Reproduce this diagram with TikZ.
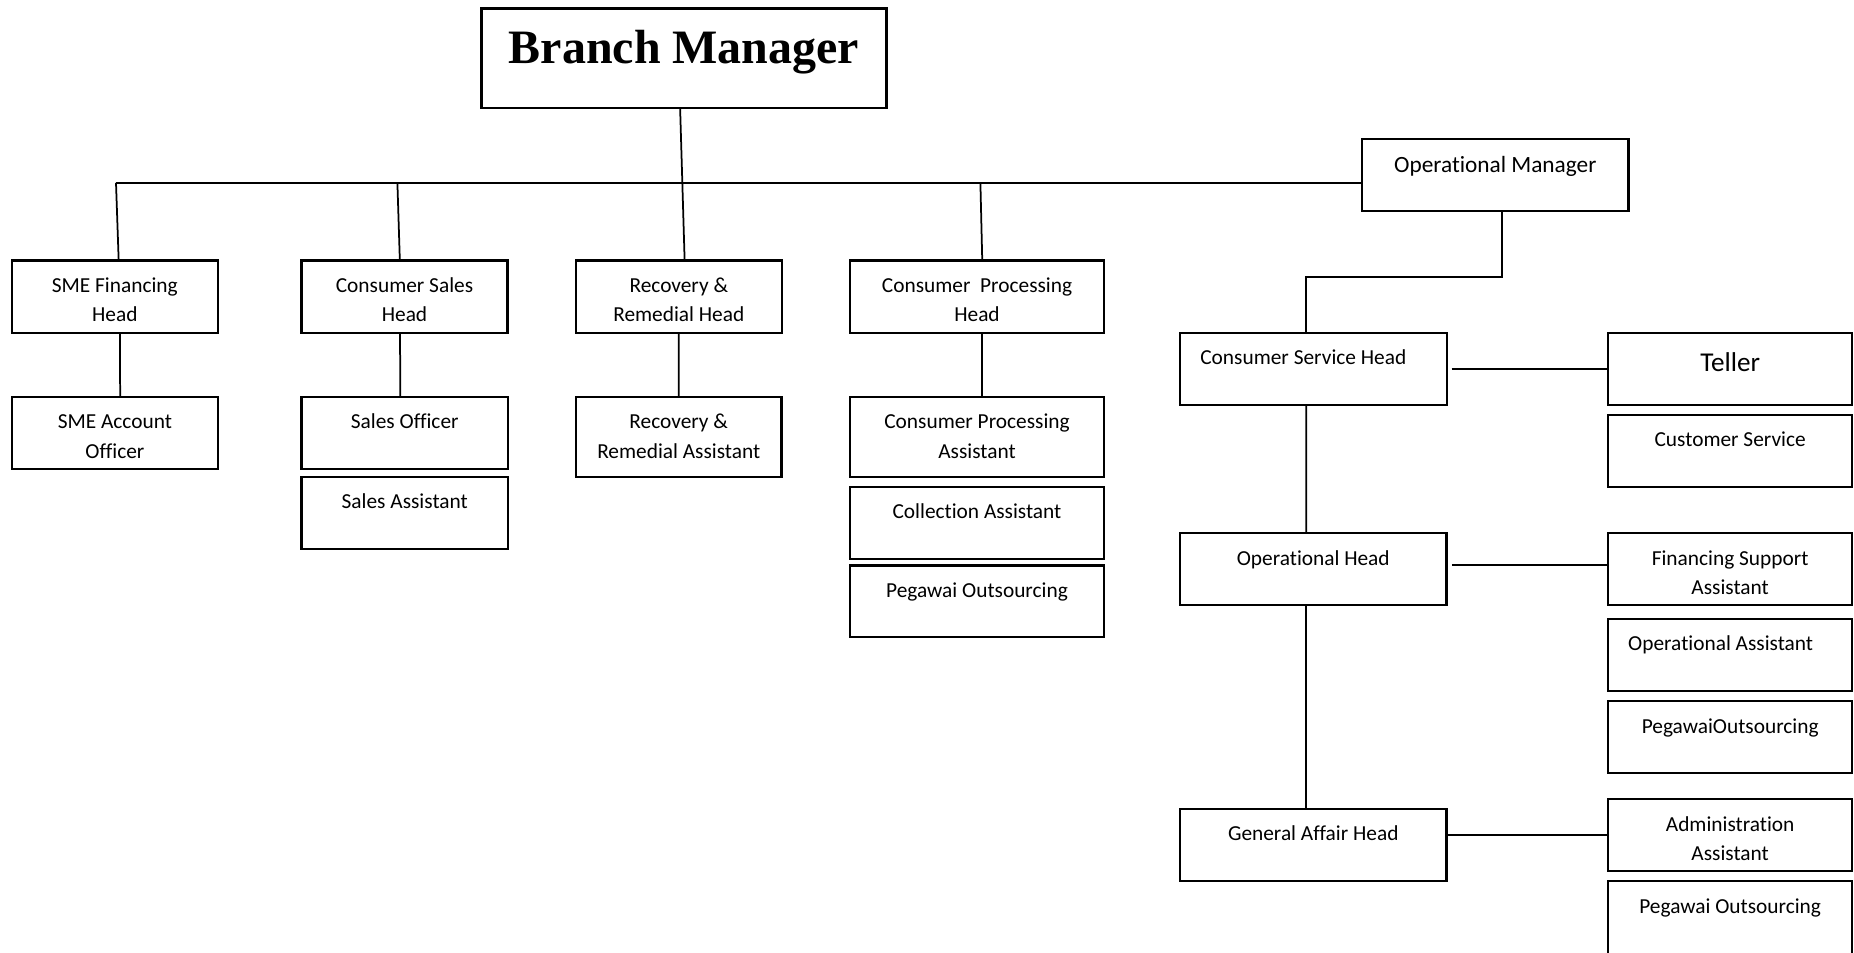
\documentclass[tikz,border=0pt]{standalone}
\usepackage{fontspec}
\setmainfont{Carlito}[Ligatures=CommonOff]
\newfontfamily\tnrfont{Liberation Serif}
\tikzset{
  boxst/.style={draw, line width=1.1pt, rectangle, inner sep=0pt, outer sep=0pt},
  topbox/.style={line width=1.5pt},
  lbl/.style={inner sep=0pt, outer sep=0pt, anchor=north, align=center, font=\fontsize{11}{15.2}\selectfont},
  conn/.style={line width=0.9pt},
}
\newcommand\orgbox[6][]{%
  \node[boxst, #1, minimum width={(#5-#3)*0.515pt}, minimum height={(#6-#4)*0.515pt}] (#2) at ({(#3+#5)/2},{(#4+#6)/2}) {};}
\newcommand\orgtxt[3][0pt]{%
  \node[lbl] (#2t) at ([xshift=#1,yshift=-5.8pt]#2.north) {\strut #3};}
\begin{document}
\begin{tikzpicture}[x=0.515pt,y=-0.515pt]
\useasboundingbox (0,0) rectangle (1854,952);
\fill[white] (0,0) rectangle (1854,952);
\clip (0,0) rectangle (1854,952);
% boxes
\orgbox[topbox]{bm}{481.5}{8.3}{886.5}{108}
\orgbox{om}{1362}{139}{1628.5}{211}
\orgbox{sme}{12}{260.5}{217.6}{333}
\orgbox{csales}{301.5}{260.5}{507.5}{333}
\orgbox{rrh}{576}{260.5}{781.6}{333}
\orgbox{cph}{850}{260.5}{1104}{333}
\orgbox{sao}{12}{397}{217.8}{469.4}
\orgbox{so}{301.5}{397}{508}{469.4}
\orgbox{sa}{301.5}{476.6}{508}{549}
\orgbox{rra}{576}{397}{781.5}{477}
\orgbox{cpa}{850}{397}{1104}{477}
\orgbox{ca}{850}{486.8}{1104}{559}
\orgbox{poa}{850}{565.5}{1104}{637}
\orgbox{csvh}{1180}{332.7}{1446.6}{405.3}
\orgbox{teller}{1608.3}{332.7}{1852}{405.3}
\orgbox{cs}{1608.3}{414.7}{1852}{487.3}
\orgbox{oh}{1180}{533.3}{1446.5}{605.3}
\orgbox{fsa}{1608.3}{533.3}{1852}{605.3}
\orgbox{oa}{1608.3}{619}{1852}{691.3}
\orgbox{pob}{1608.3}{701.3}{1852}{773.3}
\orgbox{gah}{1180}{809}{1446.5}{881}
\orgbox{aa}{1608.3}{799.3}{1852}{871.3}
\orgbox{poc}{1608.3}{881.3}{1852}{1000}
% texts
\node[inner sep=0pt, anchor=base, font=\tnrfont\bfseries\fontsize{24.7}{28}\selectfont] (bmt) at ([yshift=-28.3pt]bm.north) {Branch Manager};
\node[inner sep=0pt, anchor=base, font=\fontsize{12}{14.6}\selectfont] (omt) at ([yshift=-17.3pt]om.north) {Operational Manager};
\node[inner sep=0pt, anchor=base, font=\fontsize{14}{17}\selectfont] (tellert) at ([yshift=-20.2pt]teller.north) {Teller};
\orgtxt{sme}{SME Financing\\Head}
\orgtxt{csales}{Consumer Sales\\Head}
\orgtxt{rrh}{Recovery \&\\Remedial Head}
\orgtxt{cph}{Consumer\ \ Processing\\Head}
\orgtxt{sao}{SME Account\\Officer}
\orgtxt{so}{Sales Officer}
\orgtxt{sa}{Sales Assistant}
\orgtxt{rra}{Recovery \&\\Remedial Assistant}
\orgtxt{cpa}{Consumer Processing\\Assistant}
\orgtxt{ca}{Collection Assistant}
\orgtxt{poa}{Pegawai Outsourcing}
\orgtxt[-5.15pt]{csvh}{Consumer Service Head}
\orgtxt{cs}{Customer Service}
\orgtxt{oh}{Operational Head}
\orgtxt{fsa}{Financing Support\\Assistant}
\orgtxt[-4.9pt]{oa}{Operational Assistant}
\orgtxt{pob}{PegawaiOutsourcing}
\orgtxt{gah}{General Affair Head}
\orgtxt{aa}{Administration\\Assistant}
\orgtxt{poc}{Pegawai Outsourcing}
% connectors
\coordinate (busL) at (116,182.8);
\coordinate (b2) at (397.4,182.8);
\coordinate (b3) at (980.4,182.8);
\coordinate (elb) at (1400,276.7);
\draw[conn] (busL) -- (om.west |- busL);
\draw[conn] ([xshift=-2pt]bm.south) -- ([xshift=3pt]rrh.north);
\draw[conn] (busL) -- ([xshift=2pt]sme.north);
\draw[conn] (b2) -- ([xshift=-2.4pt]csales.north);
\draw[conn] (b3) -- ([xshift=2.7pt]cph.north);
\draw[conn] ([xshift=2.7pt]sme.south) -- ([xshift=2.7pt]sao.north);
\draw[conn] ([xshift=-2.3pt]csales.south) -- ([xshift=-2.3pt]so.north);
\draw[conn] (rrh.south) -- (rra.north);
\draw[conn] ([xshift=2.5pt]cph.south) -- ([xshift=2.5pt]cpa.north);
\draw[conn] ([xshift=3.6pt]om.south) |- (elb) -| ([xshift=-3.6pt]csvh.north);
\draw[conn] ([xshift=-3.6pt]csvh.south) -- ([xshift=-3.6pt]oh.north);
\draw[conn] ([xshift=-3.6pt]oh.south) -- ([xshift=-3.6pt]gah.north);
\draw[conn] ([xshift=2.6pt]csvh.east) -- (teller.west);
\draw[conn] ([xshift=2.7pt,yshift=2.2pt]oh.east) -- ([yshift=2.2pt]fsa.west);
\draw[conn] (gah.east |- aa.west) -- (aa.west);
\end{tikzpicture}
\end{document}
